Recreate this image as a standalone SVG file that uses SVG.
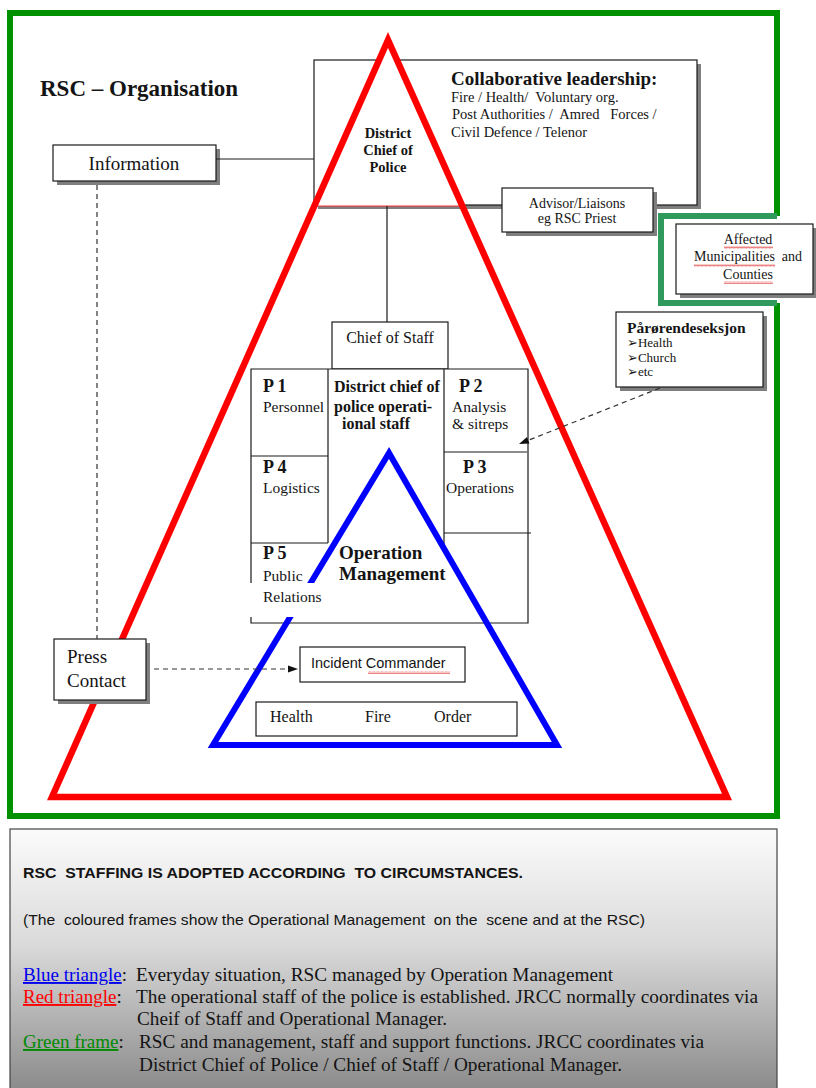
<svg xmlns="http://www.w3.org/2000/svg" width="816" height="1088" viewBox="0 0 816 1088">
<defs>
<style>
.t{font-family:"Liberation Serif","Times New Roman",serif;fill:#141414}
.b{font-weight:bold}
.s{font-family:"Liberation Sans",Arial,sans-serif;fill:#141414}
.box{fill:#fff;stroke:#1a1a1a;stroke-width:1.2}
.sh{fill:#7f7f7f}
.ln{fill:none;stroke:#1a1a1a;stroke-width:1.2}
.dash{fill:none;stroke:#333;stroke-width:1.2;stroke-dasharray:5 4}
.sq{fill:url(#squiggle)}
.pre{white-space:pre}
.bul{font-family:"DejaVu Sans",sans-serif;font-size:13px;font-weight:bold}
</style>
<linearGradient id="legendFill" x1="0" y1="0" x2="0" y2="1">
<stop offset="0" stop-color="#fbfbfb"/>
<stop offset="0.45" stop-color="#d9d9d9"/>
<stop offset="1" stop-color="#8a8a8a"/>
</linearGradient>
<pattern id="squiggle" width="4" height="3" patternUnits="userSpaceOnUse">
<path d="M0 2.5 L1 0.5 L2 2.5 L3 0.5 L4 2.5" fill="none" stroke="#e03030" stroke-width="0.6"/>
</pattern>
<marker id="arrow" viewBox="0 0 10 10" refX="10" refY="5" markerWidth="10" markerHeight="10" markerUnits="userSpaceOnUse" orient="auto">
<path d="M0,1.5 L10,5 L0,8.5 z" fill="#111" stroke="none"/>
</marker>
</defs>

<rect width="816" height="1088" fill="#fff"/>

<!-- outer green frame with notch around the municipalities box -->
<g id="green-frame" fill="none" stroke-width="6" stroke-linejoin="miter">
<path d="M777 216 V13 H10 V816 H777 V303" stroke="#009100"/>
<path d="M777 216 H661 V303 H777" stroke="#2f9a5c"/>
</g>

<text class="t b" x="40" y="96" font-size="23">RSC – Organisation</text>

<!-- collaborative leadership -->
<g id="collab">
<rect class="sh" x="318" y="64" width="383" height="145"/>
<rect class="box" x="314" y="60" width="383" height="145"/>
<text class="t b" x="451" y="85" font-size="19">Collaborative leadership:</text>
<text class="t pre" x="451" y="102" font-size="14.5">Fire / Health/  Voluntary org.</text>
<text class="t pre" x="452" y="119" font-size="14.5">Post Authorities /  Amred   Forces /</text>
<text class="t" x="451" y="137" font-size="14.5">Civil Defence / Telenor</text>
</g>

<!-- district chief of police -->
<g id="district-chief">
<polygon points="388,40 314,206 462,206" fill="#fff" stroke="#ff3030" stroke-width="1"/>
<text class="t b" x="388" y="138" font-size="14.5" text-anchor="middle">District</text>
<text class="t b" x="388" y="155" font-size="14.5" text-anchor="middle">Chief of</text>
<text class="t b" x="388" y="172" font-size="14.5" text-anchor="middle">Police</text>
</g>

<!-- red triangle -->
<polygon id="red-triangle" points="388,40 52,797 727,797" fill="none" stroke="#ff0000" stroke-width="6.5" stroke-linejoin="miter"/>

<g id="information">
<rect class="sh" x="57" y="149" width="163" height="36"/>
<rect class="box" x="53" y="145" width="163" height="36"/>
<text class="t" x="134" y="170" font-size="19" text-anchor="middle">Information</text>
</g>

<g id="advisor">
<rect class="sh" x="506" y="192" width="151" height="44"/>
<rect class="box" x="502" y="188" width="151" height="44"/>
<text class="t" x="577" y="208" font-size="14" text-anchor="middle">Advisor/Liaisons</text>
<text class="t" x="577" y="223" font-size="14" text-anchor="middle">eg RSC Priest</text>
</g>

<g id="municipalities">
<rect class="sh" x="680" y="228" width="137" height="70"/>
<rect class="box" x="676" y="224" width="137" height="70"/>
<text class="t" x="748" y="244" font-size="14" text-anchor="middle">Affected</text>
<text class="t pre" x="748" y="261" font-size="14" text-anchor="middle">Municipalities  and</text>
<text class="t" x="748" y="279" font-size="14" text-anchor="middle">Counties</text>
<rect class="sq" x="724" y="246" width="49" height="3"/>
<rect class="sq" x="694" y="264" width="81" height="3"/>
<rect class="sq" x="724" y="281" width="49" height="3"/>
</g>

<g id="parorende">
<rect class="sh" x="620" y="316" width="147" height="75"/>
<rect class="box" x="616" y="312" width="147" height="75"/>
<text class="t b" x="627" y="333" font-size="15.5">Pårørendeseksjon</text>
<text class="t" x="627" y="347" font-size="13"><tspan class="bul">➢</tspan>Health</text>
<text class="t" x="627" y="362" font-size="13"><tspan class="bul">➢</tspan>Church</text>
<text class="t" x="627" y="376" font-size="13"><tspan class="bul">➢</tspan>etc</text>
</g>

<!-- operational staff grid -->
<g id="chief-of-staff">
<rect class="box" x="332" y="322" width="116" height="47"/>
<text class="t" x="390" y="343" font-size="16" text-anchor="middle">Chief of Staff</text>
</g>

<g id="staff-grid">
<rect x="251" y="369" width="277" height="254" fill="#fff"/>
<path class="ln" d="M251 583 V369 H528 V623 H251 V617"/>
<path class="ln" d="M328 369 V543 M444 369 V547 M251 456 H328 M251 543 H328 M444 452 H527 M444 533 H531"/>
<text class="t b" x="263" y="392" font-size="18">P 1</text>
<text class="t" x="263" y="412" font-size="15.5">Personnel</text>
<text class="t b" x="334" y="392" font-size="16">District chief of</text>
<text class="t b" x="334" y="412" font-size="16">police operati-</text>
<text class="t b" x="342" y="429" font-size="16">ional staff</text>
<text class="t b" x="459" y="392" font-size="18">P 2</text>
<text class="t" x="452" y="412" font-size="15.5">Analysis</text>
<text class="t" x="452" y="429" font-size="15.5">&amp; sitreps</text>
<text class="t b" x="263" y="473" font-size="18">P 4</text>
<text class="t" x="263" y="493" font-size="15.5">Logistics</text>
<text class="t b" x="463" y="473" font-size="18">P 3</text>
<text class="t" x="446" y="493" font-size="15.5">Operations</text>
<text class="t b" x="263" y="559" font-size="18">P 5</text>
</g>

<!-- blue triangle -->
<polygon id="blue-triangle" points="389,453 213,745 557,745" fill="none" stroke="#0000ff" stroke-width="6" stroke-linejoin="miter"/>

<g id="public-relations">
<rect x="246" y="583" width="84" height="34" fill="#fff"/>
<text class="t" x="263" y="581" font-size="15.5">Public</text>
<text class="t" x="263" y="602" font-size="15.5">Relations</text>
</g>

<g id="operation-management">
<text class="t b" x="339" y="559" font-size="19">Operation</text>
<text class="t b" x="339" y="580" font-size="19">Management</text>
</g>

<g id="press-contact">
<rect class="sh" x="58" y="643" width="92" height="61"/>
<rect class="box" x="54" y="639" width="92" height="61"/>
<text class="t" x="67" y="663" font-size="19">Press</text>
<text class="t" x="67" y="687" font-size="19">Contact</text>
</g>

<g id="incident-commander">
<rect class="box" x="300" y="647" width="165" height="35"/>
<text class="s" x="311" y="668" font-size="14.5">Incident Commander</text>
<rect class="sq" x="368" y="671" width="82" height="3"/>
</g>

<g id="emergency-services">
<rect class="box" x="256" y="702" width="261" height="34"/>
<text class="t" x="270" y="722" font-size="16">Health</text>
<text class="t" x="365" y="722" font-size="16">Fire</text>
<text class="t" x="434" y="722" font-size="16">Order</text>
</g>

<!-- connectors -->
<g id="connectors">
<line class="ln" x1="216" y1="159" x2="314" y2="159"/>
<line class="ln" x1="387" y1="206" x2="387" y2="322"/>
<line class="dash" x1="97" y1="185" x2="97" y2="639" stroke-dasharray="4 3" stroke="#444"/>
<path class="dash" d="M154 669 H298" marker-end="url(#arrow)"/>
<path class="dash" d="M660 388 L519 444" marker-end="url(#arrow)"/>
</g>

<!-- legend -->
<g id="legend">
<rect x="10" y="829" width="767" height="262" fill="url(#legendFill)" stroke="#444" stroke-width="1.2"/>
<text class="s b pre" x="23" y="878" font-size="15" textLength="500" lengthAdjust="spacingAndGlyphs">RSC  STAFFING IS ADOPTED ACCORDING  TO CIRCUMSTANCES.</text>
<text class="s pre" x="23" y="925" font-size="15" textLength="622" lengthAdjust="spacingAndGlyphs">(The  coloured frames show the Operational Management  on the  scene and at the RSC)</text>
<text class="t" x="23" y="981" font-size="19"><tspan fill="#0000ee" text-decoration="underline">Blue triangle</tspan>:</text>
<text class="t" x="136" y="981" font-size="19" textLength="477" lengthAdjust="spacingAndGlyphs">Everyday situation, RSC managed by Operation Management</text>
<text class="t" x="23" y="1003" font-size="19"><tspan fill="#ff0000" text-decoration="underline">Red triangle</tspan>:</text>
<text class="t" x="136" y="1003" font-size="19" textLength="622" lengthAdjust="spacingAndGlyphs">The operational staff of the police is established. JRCC normally coordinates via</text>
<text class="t" x="137" y="1025" font-size="19" textLength="310" lengthAdjust="spacingAndGlyphs">Cheif of Staff and Operational Manager.</text>
<text class="t" x="23" y="1048" font-size="19"><tspan fill="#008a00" text-decoration="underline">Green frame</tspan>:</text>
<text class="t" x="139" y="1048" font-size="19" textLength="565" lengthAdjust="spacingAndGlyphs">RSC and management, staff and support functions. JRCC coordinates via</text>
<text class="t" x="139" y="1071" font-size="19" textLength="483" lengthAdjust="spacingAndGlyphs">District Chief of Police / Chief of Staff / Operational Manager.</text>
</g>
</svg>
